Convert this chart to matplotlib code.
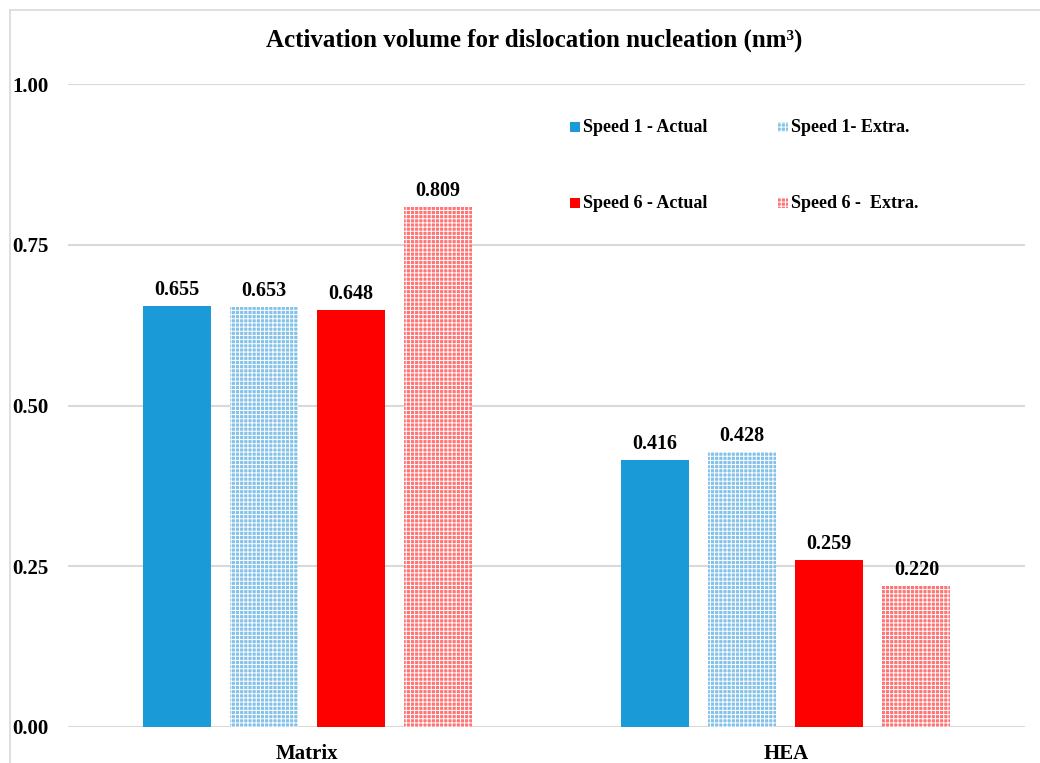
import matplotlib
matplotlib.use("Agg")
import matplotlib.pyplot as plt
from matplotlib.patches import Rectangle
from matplotlib.lines import Line2D
import numpy as np

categories = ["Matrix", "HEA"]
series_names = ["Speed 1 - Actual", "Speed 1- Extra.", "Speed 6 - Actual", "Speed 6 -  Extra."]
values = {
    "Speed 1 - Actual": [0.655, 0.416],
    "Speed 1- Extra.": [0.653, 0.428],
    "Speed 6 - Actual": [0.648, 0.259],
    "Speed 6 -  Extra.": [0.809, 0.220],
}
yticks = [0.00, 0.25, 0.50, 0.75, 1.00]

plt.rcParams["font.family"] = ["Liberation Serif", "DejaVu Serif"]
plt.rcParams["font.weight"] = "bold"
plt.rcParams["hatch.linewidth"] = 0.7

W, H = 1040, 763
fig = plt.figure(figsize=(W / 100, H / 100), dpi=100)
ax = fig.add_axes([68 / W, 1 - 727 / H, (1025 - 68) / W, (727 - 84) / H])

styles = [
    dict(facecolor="#1a9ad6", hatch=None),
    dict(facecolor="#84c2ea", hatch="++++"),
    dict(facecolor="#ff0000", hatch=None),
    dict(facecolor="#ff7474", hatch="++++"),
]

x = np.arange(len(categories))
bar_w = 0.142
step = 0.182
offsets = (np.arange(4) - 1.5) * step

for i, name in enumerate(series_names):
    st = styles[i]
    ax.bar(x + offsets[i], values[name], width=bar_w,
           facecolor=st["facecolor"], edgecolor="white",
           linewidth=0, hatch=st["hatch"], zorder=3)
    for xi, v in zip(x + offsets[i], values[name]):
        ax.annotate(f"{v:.3f}", xy=(xi, v), xytext=(0, 11.5),
                    textcoords="offset points", ha="center", va="center",
                    fontsize=14.5, fontweight="bold", zorder=4)

ax.set_xlim(-0.5, 1.5)
ax.set_ylim(0, 1.0)
ax.set_yticks(yticks)
ax.set_yticklabels([f"{t:.2f}" for t in yticks], fontsize=15, fontweight="bold",
                   ha="left")
ax.set_xticks(x)
ax.set_xticklabels(categories, fontsize=15, fontweight="bold")
ax.tick_params(axis="y", length=0, pad=40)
ax.tick_params(axis="x", length=0, pad=12)
for s in ax.spines.values():
    s.set_visible(False)
ax.grid(axis="y", color="#d9d9d9", linewidth=1.5, zorder=0)
ax.set_axisbelow(True)

fig.text(534 / W, 1 - 40 / H, "Activation volume for dislocation nucleation (nm³)",
         ha="center", va="center", fontsize=18, fontweight="bold")

# legend laid out in two columns
legend_pos = [(570, 127), (778, 127), (570, 203), (778, 203)]
for i, name in enumerate(series_names):
    px, py = legend_pos[i]
    st = styles[i]
    sq = Rectangle((px / W, 1 - (py + 5) / H), 10 / W, 10 / H,
                   transform=fig.transFigure, facecolor=st["facecolor"],
                   edgecolor="white", linewidth=0, hatch=st["hatch"])
    fig.add_artist(sq)
    fig.text((px + 13) / W, 1 - py / H, name, ha="left", va="center",
             fontsize=13, fontweight="bold")

# outer frame lines
fig.add_artist(Line2D([10 / W, 10 / W], [0, 1 - 10 / H], transform=fig.transFigure,
                      color="#d9d9d9", linewidth=1.2))
fig.add_artist(Line2D([10 / W, 1], [1 - 10 / H, 1 - 10 / H], transform=fig.transFigure,
                      color="#d9d9d9", linewidth=1.2))

fig.savefig("out.png", dpi=100, facecolor="white")
